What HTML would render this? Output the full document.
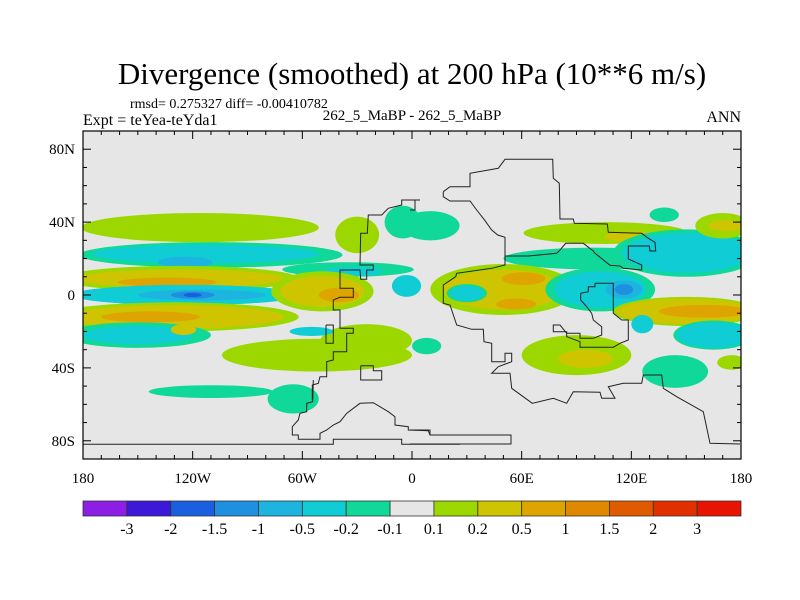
<!DOCTYPE html>
<html><head><meta charset="utf-8">
<style>
html,body{margin:0;padding:0;background:#fff;}
svg{display:block;font-family:"Liberation Serif",serif;}
</style></head>
<body>
<svg id="chart" width="800" height="600" viewBox="0 0 800 600">
  <defs><clipPath id="plotclip"><rect x="83" y="131" width="658" height="328"/></clipPath></defs>
  <text x="412" y="84" text-anchor="middle" font-size="31">Divergence (smoothed) at 200 hPa (10**6 m/s)</text>
  <text x="130" y="108" font-size="14">rmsd= 0.275327 diff= -0.00410782</text>
  <text x="83" y="125" font-size="16">Expt = teYea-teYda1</text>
  <text x="412" y="120" text-anchor="middle" font-size="15">262_5_MaBP - 262_5_MaBP</text>
  <text x="741" y="122" text-anchor="end" font-size="16">ANN</text>
  <rect x="83" y="131" width="658" height="328" fill="#e6e6e6"/>
  <g id="blobs" clip-path="url(#plotclip)"></g>
  <g id="coast" clip-path="url(#plotclip)" fill="none" stroke="#222" stroke-width="1"></g>
  <rect x="83" y="131" width="658" height="328" fill="none" stroke="#000" stroke-width="1.2"/>
  <g id="axes"></g>
  <g id="colorbar"></g>
</svg>
<script>
// contour level colours and labels
const levelColors = ["#8c1ee6","#3c18d8","#1a5fe0","#1e90e0","#1eb4e0","#10ccd4","#10d898","#e6e6e6","#9cd800","#cec400","#dea400","#e08800","#e05a00","#e03000","#e61400"];
const levelLabels = ["-3","-2","-1.5","-1","-0.5","-0.2","-0.1","0.1","0.2","0.5","1","1.5","2","3"];
const xTickLabels = ["180","120W","60W","0","60E","120E","180"];
const xTickLons = [-180,-120,-60,0,60,120,180];
const yTickLabels = ["80N","40N","0","40S","80S"];
const yTickLats = [80,40,0,-40,-80];
// smoothed anomaly features (lon centre, lat centre, lon half-width, lat half-height, level)
const blobLon = [-116,-30,-110,-113,-124,-35,-32,-127,-127,-134,-124,-123,-115,-120,-120,-130,-130,-143,-150,-150,-125,-49,-49,-40,-52,-25,-110,-65,-55,-5,-3,10,106,120,100,150,150,138,170,172,50,50,61,57,30,30,103,103,116,116,150,150,160,165,165,90,95,144,8,126,175];
const blobLat = [37,33,22,22.5,18,14,13,9,9,7,0,0,0,0,0,-12,-12,-12,-22,-22,-19,2,2,0,-33,-25,-53,-57,-20,40,5,38,34,32,20,23,23,44,38,38,3,3,9,-5,1,1,3,3,3,3,-9,-9,-9,-22,-22,-33,-35,-42,-28,-16,-37];
const blobRx = [65,12,72,62,15,36,16,65,57,27,62,62,35,12,5,68,60,27,40,30,7,28,23,11,52,25,34,14,12,10,8,16,45,15,50,40,35,8,15,10,40,33,12,11,11,9,30,25,10,5,40,38,25,22,20,30,15,18,8,6,8];
const blobRy = [8,10,7,5,3,4,2.5,7,5,2.5,5.5,5.5,3,2,1.2,8,6.5,3,7,5,3,11,8.5,4,9,9,3.5,8,2.5,9,6,8,6,3,6,13,11,4,7,3,14,11,3.5,3,5,4,12,10,5,3,8,7,3.5,8,7,11,5,9,4.5,5,4];
const blobLevel = [8,8,6,5,4,6,5,8,9,10,5,5,4,3,2,8,9,10,6,5,9,8,9,10,8,8,6,6,5,6,5,6,8,9,6,6,5,6,8,9,8,9,10,10,6,5,6,5,4,3,8,9,10,6,5,8,9,6,6,5,8];

const NS="http://www.w3.org/2000/svg";
const X0=83,X1=741,Y0=131,Y1=459;
function xOf(lon){return X0+(lon+180)/360*(X1-X0);}
function yOf(lat){return Y0+(90-lat)/180*(Y1-Y0);}
function mk(tag,attrs,parent){const e=document.createElementNS(NS,tag);for(const k in attrs)e.setAttribute(k,attrs[k]);parent.appendChild(e);return e;}

const gB=document.getElementById('blobs');
blobLon.forEach((_,i)=>{
  const e=mk('ellipse',{cx:xOf(blobLon[i]),cy:yOf(blobLat[i]),rx:blobRx[i]/360*(X1-X0),ry:blobRy[i]/180*(Y1-Y0),fill:levelColors[blobLevel[i]]},gB);
  
  
});

// continent outlines (traced in zoom coordinates, origin + scale 1/3)
const coastTraces=[
 {ox:410,oy:140,pts:[[100,155],[120,140],[180,140],[180,100],[265,85],[285,58],[428,58],[430,115],[448,130],[450,237],[490,237],[493,250],[592,252],[595,277],[695,280],[715,295],[735,307],[737,333],[720,333],[718,318],[655,318],[655,357],[695,375],[695,390],[640,385],[630,378],[600,376],[553,338],[550,333],[520,310],[467,310],[450,330],[440,340],[355,348],[285,348],[285,292],[263,285],[245,270],[222,238],[200,210],[180,183],[120,183],[100,170],[100,155]]},
 {ox:410,oy:140,pts:[[285,348],[285,375],[245,385],[140,400],[137,410],[100,435],[100,490],[120,495],[140,555],[185,568],[220,568],[222,605],[245,610],[245,665],[285,665],[285,640],[305,640],[305,665],[265,680],[245,700],[300,700],[305,745],[367,790],[430,775],[470,790],[490,755],[570,757],[575,775],[615,775],[595,740],[640,730],[695,730],[700,705],[755,705],[760,745],[800,770],[880,815],[900,910],[990,912]]},
 {ox:410,oy:140,pts:[[555,430],[610,430],[610,520],[635,540],[655,540],[655,600],[630,610],[610,622],[510,622],[510,605],[470,590],[470,575],[430,575],[430,555],[450,555],[470,580],[510,580],[510,595],[550,595],[575,585],[575,560],[550,540],[545,520],[530,500],[512,480],[512,460],[535,455],[535,440],[555,440],[555,430]]},
 {ox:410,oy:140,pts:[[0,870],[60,870],[60,885],[303,885],[303,912],[0,912]]},
 {ox:80,oy:200,pts:[[1020,0],[965,0],[965,15],[925,25],[905,45],[865,45],[862,100],[842,100],[840,195],[880,195],[880,210],[860,210],[860,238],[842,238],[840,210],[780,210],[780,265],[820,265],[820,292],[780,292],[760,300],[760,330],[780,330],[780,385],[820,385],[820,400],[800,400],[800,455],[760,455],[760,480],[740,485],[740,530],[720,530],[715,550],[697,555],[697,600]]},
 {ox:80,oy:200,pts:[[738,375],[760,375],[760,430],[738,430],[738,375]]},
 {ox:80,oy:200,pts:[[842,497],[880,497],[880,512],[905,512],[905,540],[842,540],[842,497]]},
 {ox:40,oy:380,pts:[[820,0],[818,65],[800,70],[800,95],[780,100],[775,120],[757,140],[757,165],[775,165],[775,178],[840,178],[840,160],[860,150],[880,135],[900,125],[920,100],[960,70],[1000,68],[1020,80],[1045,95],[1065,110],[1065,135],[1105,140],[1105,150],[1165,152],[1170,165],[1260,165]]},
 {ox:40,oy:380,pts:[[128,193],[880,193],[880,178],[1085,178],[1085,193],[1260,193]]},
 {ox:410,oy:140,pts:[[0,180],[15,180],[15,210],[0,210]]}
];
const gC=document.getElementById('coast');
coastTraces.forEach(t=>{
  const p=mk('polyline',{points:t.pts.map(q=>(t.ox+q[0]/3).toFixed(1)+','+(t.oy+q[1]/3).toFixed(1)).join(' ')},gC);
  
  
});

// axes
const gA=document.getElementById('axes');
for(let lon=-180;lon<=180;lon+=10){
  const major=lon%60===0, L=major?8:4;
  mk('line',{x1:xOf(lon),x2:xOf(lon),y1:Y1,y2:Y1-L,stroke:'#000'},gA);
  mk('line',{x1:xOf(lon),x2:xOf(lon),y1:Y0,y2:Y0+L,stroke:'#000'},gA);
}
for(let lat=-90;lat<=90;lat+=10){
  const major=lat%40===0, L=major?8:4;
  mk('line',{x1:X0,x2:X0+L,y1:yOf(lat),y2:yOf(lat),stroke:'#000'},gA);
  mk('line',{x1:X1,x2:X1-L,y1:yOf(lat),y2:yOf(lat),stroke:'#000'},gA);
}
xTickLabels.forEach((s,i)=>{
  const t=mk('text',{x:xOf(xTickLons[i]),y:483,'text-anchor':'middle','font-size':15},gA);
  t.textContent=s;
  
  
});
yTickLabels.forEach((s,i)=>{
  const t=mk('text',{x:75,y:yOf(yTickLats[i])+5,'text-anchor':'end','font-size':15},gA);
  t.textContent=s;
  
  
});

// colorbar
const gK=document.getElementById('colorbar');
const bw=(X1-X0)/levelColors.length;
levelColors.forEach((c,i)=>{
  const r=mk('rect',{x:X0+i*bw,y:501,width:bw,height:15,fill:c,stroke:'#333','stroke-width':0.8},gK);
  
  
});
levelLabels.forEach((s,i)=>{
  const t=mk('text',{x:X0+(i+1)*bw,y:534,'text-anchor':'middle','font-size':16},gK);
  t.textContent=s;
  
  
});
</script>
</body></html>
